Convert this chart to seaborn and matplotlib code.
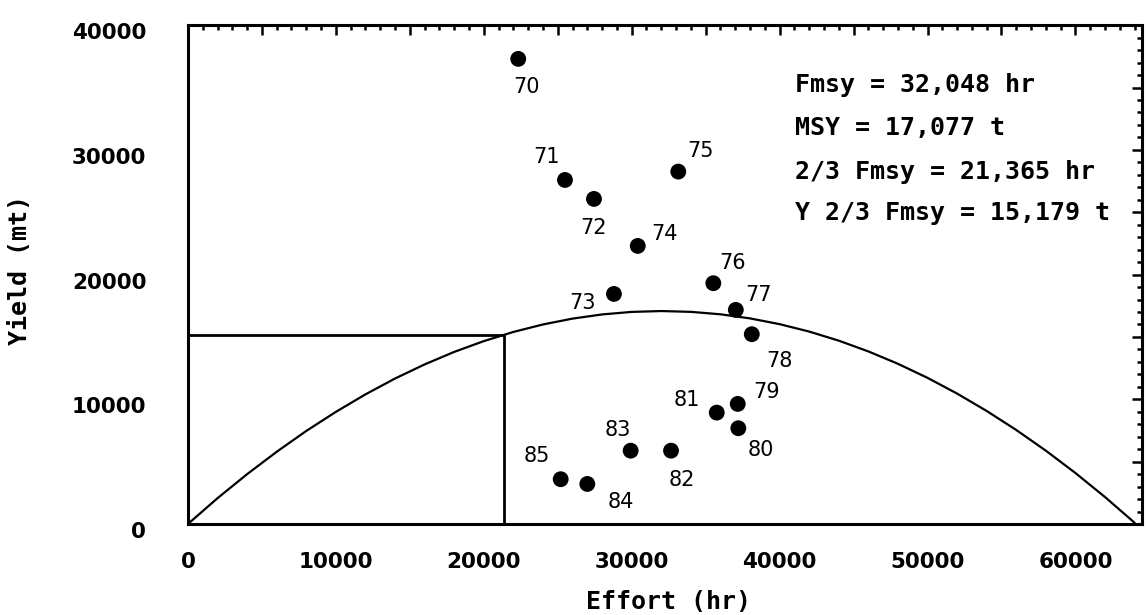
import matplotlib
matplotlib.use("Agg")
import matplotlib.pyplot as plt
import seaborn as sns
import pandas as pd
from matplotlib.ticker import MultipleLocator, FuncFormatter
from matplotlib.transforms import ScaledTranslation

# yearly effort / yield observations
years = ["70", "71", "72", "73", "74", "75", "76", "77",
         "78", "79", "80", "81", "82", "83", "84", "85"]
effort = [22330, 25490, 27450, 28800, 30410, 33150, 35520, 37040,
          38120, 37170, 37210, 35750, 32660, 29930, 27000, 25200]
yield_mt = [37300, 27590, 26070, 18450, 22300, 28260, 19310, 17170,
            15220, 9630, 7680, 8930, 5880, 5880, 3210, 3590]

# surplus production curve
curve_effort = [0, 2000, 4000, 6000, 8000, 10000, 12000, 14000, 16000,
                18000, 20000, 22000, 24000, 26000, 28000, 30000, 32000,
                34000, 36000, 38000, 40000, 42000, 44000, 46000, 48000,
                50000, 52000, 54000, 56000, 58000, 60000, 62000, 64000]
curve_yield = [0, 2069, 3996, 5790, 7461, 8990, 10394, 11665, 12796,
               13800, 14664, 15400, 16000, 16470, 16805, 17008, 17077,
               17012, 16817, 16488, 16026, 15431, 14702, 13840, 12847,
               11720, 10458, 9064, 7538, 5880, 4087, 2160, 100]

f23 = 21365
y23 = 15179
stats = ["Fmsy = 32,048 hr", "MSY = 17,077 t",
         "2/3 Fmsy = 21,365 hr", "Y 2/3 Fmsy = 15,179 t"]

# label offsets in pixels (dx, dy), screen y up
offsets = {"70": (8, -28), "71": (-18, 23), "72": (0, -29), "73": (-31, -9),
           "74": (27, 12), "75": (22, 21), "76": (19, 20), "77": (23, 15),
           "78": (28, -27), "79": (29, 12), "80": (22, -22), "81": (-30, 13),
           "82": (11, -29), "83": (-13, 21), "84": (34, -18), "85": (-24, 23)}

sns.set_style("white")
plt.rcParams['font.family'] = ['DejaVu Sans']
plt.rcParams['text.color'] = 'black'
plt.rcParams['axes.labelcolor'] = 'black'
plt.rcParams['xtick.color'] = 'black'
plt.rcParams['ytick.color'] = 'black'

df = pd.DataFrame({"year": years, "effort": effort, "yield": yield_mt})
curve = pd.DataFrame({"effort": curve_effort, "yield": curve_yield})

fig = plt.figure(figsize=(11.46, 6.15), dpi=100)
ax = fig.add_axes([0.164, 0.148, 0.8325, 0.811])

sns.lineplot(data=curve, x="effort", y="yield", color="black", linewidth=1.6,
             ax=ax, sort=False)
ax.plot([0, f23], [y23, y23], color="black", linewidth=2)
ax.plot([f23, f23], [0, y23], color="black", linewidth=2)
sns.scatterplot(data=df, x="effort", y="yield", color="black", s=130,
                edgecolor="none", ax=ax, zorder=3)

for yr, xv, yv in zip(years, effort, yield_mt):
    dx, dy = offsets[yr]
    ax.annotate(yr, (xv, yv), xytext=(dx, dy), textcoords="offset pixels",
                ha="center", va="center", fontsize=15, color="black")

for i, line in enumerate(stats):
    ax.text(0.636, [0.880, 0.794, 0.705, 0.623][i], line, transform=ax.transAxes,
            ha="left", va="center", fontsize=18, family="DejaVu Sans Mono",
            fontweight="bold", color="black")

ax.set_xlim(0, 64500)
ax.set_ylim(0, 40000)
ax.xaxis.set_major_locator(MultipleLocator(5000))
ax.xaxis.set_minor_locator(MultipleLocator(1000))
ax.yaxis.set_major_locator(MultipleLocator(5000))
ax.yaxis.set_minor_locator(MultipleLocator(1000))
fmt = FuncFormatter(lambda v, p: "%d" % v if v % 10000 == 0 else "")
ax.xaxis.set_major_formatter(fmt)
ax.yaxis.set_major_formatter(fmt)

ax.tick_params(which="both", direction="in", top=True, right=True,
               color="black", width=1.8)
ax.tick_params(which="major", length=7)
ax.tick_params(which="minor", length=3.5)
ax.tick_params(axis="x", which="major", pad=20)
ax.tick_params(axis="y", which="major", pad=30)
for lab in ax.get_xticklabels() + ax.get_yticklabels():
    lab.set_fontsize(15.5)
    lab.set_fontweight("bold")
    lab.set_color("black")

# y tick labels sit a little below their ticks in the original
shift = ScaledTranslation(0, -6 / 100, fig.dpi_scale_trans)
for t in ax.yaxis.get_major_ticks():
    t.label1.set_transform(t.label1.get_transform() + shift)

for sp in ax.spines.values():
    sp.set_color("black")
    sp.set_linewidth(2.2)

ax.set_xlabel("Effort (hr)", family="DejaVu Sans Mono", fontweight="bold",
              fontsize=18, color="black")
ax.set_ylabel("Yield (mt)", family="DejaVu Sans Mono", fontweight="bold",
              fontsize=18, color="black")
ax.xaxis.set_label_coords(0.504, -0.132)
ax.yaxis.set_label_coords(-0.1635, 0.509)

fig.savefig("out.png", dpi=100)
